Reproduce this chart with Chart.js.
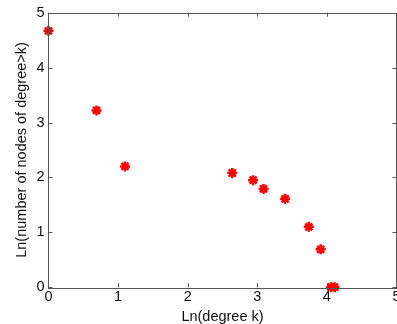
<!DOCTYPE html>
<html lang="en">
<head>
    <meta charset="UTF-8">
    <title>Degree distribution</title>
    <style>
        body { margin: 0; background: #fff; overflow: hidden; }
    </style>
</head>
<body>
    <canvas id="chartId" width="404" height="326"></canvas>
    <script src="https://cdn.jsdelivr.net/npm/chart.js@4.4.0/dist/chart.umd.min.js"></script>
    <script>
        // ln(degree k) vs ln(number of nodes with degree > k)
        const lnDegree = [0, 0.69, 1.10, 2.64, 2.94, 3.09, 3.40, 3.74, 3.91, 4.06, 4.11];
        const lnCount  = [4.67, 3.22, 2.20, 2.08, 1.95, 1.79, 1.61, 1.10, 0.69, 0, 0];
        const xTicks = [0, 1, 2, 3, 4, 5];
        const yTicks = [0, 1, 2, 3, 4, 5];

        const points = lnDegree.map((x, i) => ({ x: x, y: lnCount[i] }));

        // matlab style box with inward ticks on all four sides
        const boxTicks = {
            id: 'boxTicks',
            afterDraw(chart) {
                const ctx = chart.ctx;
                const a = chart.chartArea;
                const xs = chart.scales.x;
                const ys = chart.scales.y;
                const len = 4;
                ctx.save();
                ctx.strokeStyle = '#555';
                ctx.lineWidth = 1;
                ctx.beginPath();
                xTicks.forEach(v => {
                    const px = Math.round(xs.getPixelForValue(v)) + 0.5;
                    ctx.moveTo(px, a.bottom); ctx.lineTo(px, a.bottom - len);
                    ctx.moveTo(px, a.top); ctx.lineTo(px, a.top + len);
                });
                yTicks.forEach(v => {
                    const py = Math.round(ys.getPixelForValue(v)) + 0.5;
                    ctx.moveTo(a.left, py); ctx.lineTo(a.left + len, py);
                    ctx.moveTo(a.right, py); ctx.lineTo(a.right - len, py);
                });
                ctx.stroke();
                ctx.strokeRect(Math.round(a.left) + 0.5, Math.round(a.top) + 0.5,
                    Math.round(a.right - a.left), Math.round(a.bottom - a.top));
                ctx.restore();
            }
        };

        const font = { family: 'Liberation Sans', size: 14.5 };

        const ctx = document.getElementById('chartId').getContext('2d');
        const myChart = new Chart(ctx, {
            type: 'scatter',
            data: {
                datasets: [{
                    data: points,
                    pointStyle: 'star',
                    pointRadius: 5,
                    pointHoverRadius: 5,
                    borderColor: '#ff0000',
                    backgroundColor: '#ff0000',
                    borderWidth: 2.5,
                    clip: false
                }]
            },
            options: {
                responsive: false,
                animation: false,
                layout: { padding: { top: 3, right: 0, left: 13, bottom: 0 } },
                plugins: { legend: { display: false }, tooltip: { enabled: false } },
                scales: {
                    x: {
                        type: 'linear', min: 0, max: 5,
                        afterBuildTicks: s => { s.ticks = xTicks.map(v => ({ value: v })); },
                        grid: { display: false, drawTicks: false, tickLength: 0 },
                        border: { display: false },
                        ticks: { color: '#111', padding: 1, maxRotation: 0, font: font },
                        title: { display: true, text: 'Ln(degree k)', color: '#111',
                                 padding: { top: 2, bottom: 0 }, font: font }
                    },
                    y: {
                        type: 'linear', min: 0, max: 5,
                        afterBuildTicks: s => { s.ticks = yTicks.map(v => ({ value: v })); },
                        grid: { display: false, drawTicks: false, tickLength: 0 },
                        border: { display: false },
                        ticks: { color: '#111', padding: 4, font: font },
                        title: { display: true, text: 'Ln(number of nodes of degree>k)', color: '#111',
                                 padding: { top: 0, bottom: 2 }, font: font }
                    }
                }
            },
            plugins: [boxTicks]
        });
    </script>
</body>
</html>
